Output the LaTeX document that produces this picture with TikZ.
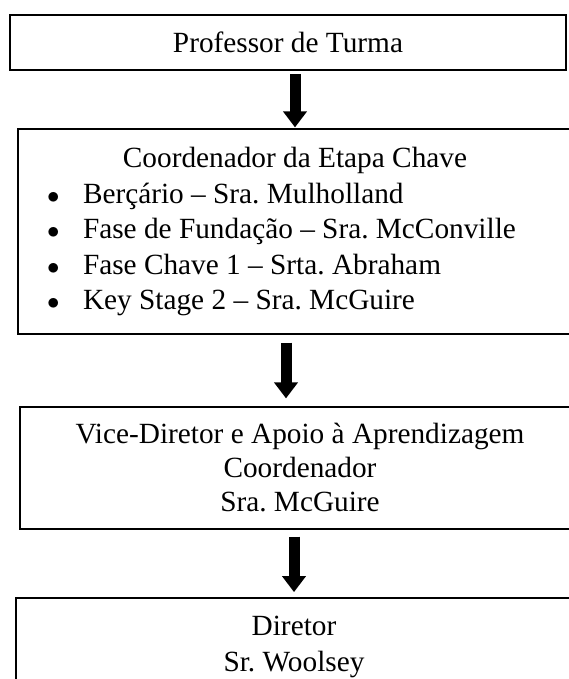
\documentclass[tikz,border=0pt]{standalone}
\usepackage{fontspec}
\setmainfont{Liberation Serif}
\usepackage{tikz}
\usetikzlibrary{calc}
\usetikzlibrary{arrows.meta}
\newcommand{\boxfont}[1]{\fontsize{29.3}{#1}\selectfont\frenchspacing}
\tikzset{
	box/.style={draw, rectangle, inner sep=0pt, line width=1.2pt, align=center,
		font=\boxfont{35.5}},
	bigarrow/.style={line width=11pt, -{Triangle[width=23pt,length=16pt]}},
}
\newcommand{\puce}{\hspace*{29pt}\makebox[36pt][l]{$\bullet$}}

\begin{document}
\begin{tikzpicture}[x=1pt,y=-1pt]
\useasboundingbox (0,0) rectangle (569,679);
\clip (0,0) rectangle (569,679);
\node[box, line width=1.8pt, minimum width=556pt, minimum height=55pt] (prof) at (288,42.5) {Professor de Turma};
\node[box, minimum width=554pt, minimum height=205pt, text width=554pt, align=flush left] (etapa) at (295,231.5)
	{\makebox[554pt]{Coordenador da Etapa Chave}\\
	\puce Berçário – Sra. Mulholland\\
	\puce Fase de Fundação – Sra. McConville\\
	\puce Fase Chave 1 – Srta. Abraham\\
	\puce Key Stage 2 – Sra. McGuire};
\node[box, minimum width=560pt, minimum height=122pt, font=\boxfont{34}] (vice) at (300,468)
	{Vice-Diretor e Apoio à Aprendizagem\\ Coordenador\\ Sra. McGuire};
\node[box, line width=1.8pt, minimum width=556pt, minimum height=98pt, font=\boxfont{36}] (diretor) at (294,647)
	{Diretor\\ Sr. Woolsey};
\draw[bigarrow, shorten <=3pt, shorten >=1pt] (prof.south -| etapa.north) -- (etapa.north);
\draw[bigarrow, shorten <=8pt, shorten >=8pt] ([xshift=-9pt]etapa.south) -- ([xshift=-9pt]etapa.south |- vice.north);
\draw[bigarrow, shorten <=7pt, shorten >=5pt] (vice.south -| diretor.north) -- (diretor.north);
\end{tikzpicture}
\end{document}
